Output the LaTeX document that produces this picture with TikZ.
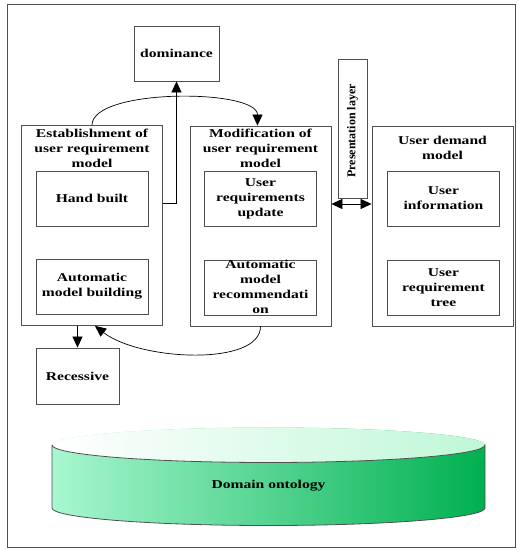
\documentclass[tikz,border=0pt]{standalone}
\usepackage{fontspec}
\setmainfont{Liberation Serif}
\newfontfamily\widefont[FakeStretch=1.3]{Liberation Serif}
\usepackage{tikz}
\usetikzlibrary{arrows.meta, calc}

\definecolor{mintlight}{HTML}{A8F7D0}
\definecolor{mintdark}{HTML}{00B050}
\definecolor{mintpale}{HTML}{BFF7D7}
\definecolor{edgegray}{HTML}{505050}

\tikzset{
  bigbox/.style={draw=edgegray, line width=0.8pt, minimum width=141pt, minimum height=200pt, inner sep=0pt},
  inbox/.style={draw=edgegray, line width=0.8pt, minimum width=112pt, minimum height=55pt, inner sep=0pt},
  txt/.style={font=\widefont\bfseries\fontsize{12}{15}\selectfont, align=center, inner sep=0pt},
  conn/.style={line width=0.7pt, -{Triangle[length=11pt,width=10pt]}},
  dconn/.style={line width=0.7pt, {Triangle[length=11pt,width=10pt]}-{Triangle[length=11pt,width=10pt]}}
}

\begin{document}
\begin{tikzpicture}[x=1pt, y=-1pt]
            \useasboundingbox (0,0) rectangle (518,550);
            \draw[edgegray, line width=0.8pt] (7,4) rectangle (515,547);

            % three models
            \node[bigbox] (est) at (92, 225.5) {};
            \node[bigbox] (mod) at (260.5, 226) {};
            \node[bigbox] (dem) at (442.5, 226) {};
            \node[txt] (est title) at (92, 148) {Establishment of\\user requirement\\model};
            \node[txt] (mod title) at (260.5, 148) {Modification of\\user requirement\\model};
            \node[txt] (dem title) at (442.5, 148) {User demand\\model};

            % inner boxes
            \node[inbox, txt] (hand) at (92, 198.5) {Hand built};
            \node[inbox, txt] (amb) at (92, 286.5) {Automatic\\model building};
            \node[inbox, txt] (update) at (260.5, 198.5) {User\\requirements\\update};
            \node[inbox] (amr) at (260.5, 288) {};
            \node[txt] (amr text) at (260.5, 286.5) {Automatic\\model\\recommendati\\on};
            \node[inbox, txt] (info) at (443.5, 198.5) {User\\information};
            \node[inbox, txt] (tree) at (443.5, 288) {User\\requirement\\tree};

            % dominance, recessive, presentation layer
            \node[inbox, txt, minimum width=85pt] (dom) at (176.5, 53.5) {dominance};
            \node[inbox, txt, minimum width=83pt, minimum height=56pt] (rec) at (77.5, 376) {Recessive};
            \node[draw=edgegray, line width=0.8pt, minimum width=29pt, minimum height=139pt, inner sep=0pt] (pres) at (352.5, 128.5) {};
            \node[rotate=90, font=\bfseries\fontsize{12}{14}\selectfont, inner sep=0pt] (pres text) at (352.5, 131) {Presentation layer};

            % connectors
            \draw[conn] ([yshift=22.5pt]est.east) -| (dom.south);
            \draw[conn] (est.north) .. controls +(0,-37) and +(0,-37) .. ([xshift=-3pt]mod.north);
            \draw[conn] (mod.south) .. controls +(0,40) and +(45,35) .. ([xshift=3pt]est.south);
            \draw[conn] (rec.north |- est.south) -- (rec.north);
            \draw[dconn] ([yshift=22pt]mod.east) -- ([yshift=22pt]dem.west);

            % domain ontology cylinder
            \shade[left color=mintlight, right color=mintdark]
              (52,445) -- (52,508) arc[start angle=180, end angle=360, x radius=216.5, y radius=-17.5]
              -- (485,445) arc[start angle=0, end angle=180, x radius=216.5, y radius=-17.5] -- cycle;
            \shade[left color=white, right color=mintpale]
              (268.5,445) ellipse[x radius=216.5, y radius=17.5];
            \draw[edgegray, line width=0.8pt]
              (52,445) -- (52,508) arc[start angle=180, end angle=360, x radius=216.5, y radius=-17.5]
              -- (485,445) arc[start angle=0, end angle=180, x radius=216.5, y radius=17.5];
            \node[txt] (onto) at (268.5, 486) {Domain ontology};
        \end{tikzpicture}
\end{document}
